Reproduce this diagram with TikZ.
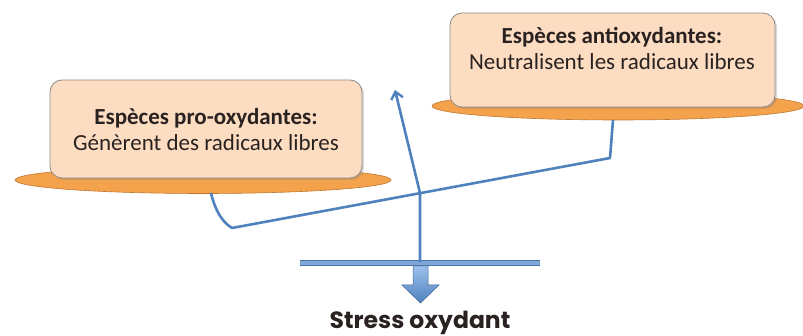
\documentclass[tikz,border=0pt]{standalone}
\usepackage{fontspec}
\setmainfont{Carlito}
\newfontfamily\gothic{Poppins}
\usetikzlibrary{arrows.meta,shadows,shapes.geometric}
\definecolor{peach}{HTML}{FCDDC2}
\definecolor{peachedge}{HTML}{8E8A88}
\definecolor{orangeell}{HTML}{F5A24C}
\definecolor{orangeedge}{HTML}{C07830}
\definecolor{leverblue}{HTML}{4F81BD}
\definecolor{lightblue}{HTML}{7FA7DA}
\definecolor{arrowtop}{HTML}{9CC0EC}
\definecolor{inktext}{HTML}{2A2220}
\tikzset{
  plate/.style={ellipse, fill=orangeell, draw=orangeedge, line width=0.6pt, inner sep=0pt},
  card/.style={rounded corners=12pt, fill=peach, draw=peachedge, line width=0.8pt,
    drop shadow={shadow xshift=2pt, shadow yshift=-2pt, opacity=0.3}},
  cardtext/.style={align=center, font=\fontsize{23}{26}\selectfont, text=inktext},
  lever/.style={draw=leverblue, line width=2.6pt, line join=round},
}
\begin{document}
\begin{tikzpicture}[x=1pt,y=-1pt]
\useasboundingbox (0,0) rectangle (803,336);
% plates
\node[plate, minimum width=376pt, minimum height=27pt] (lplate) at (203,180) {};
\node[plate, minimum width=372pt, minimum height=28pt] (rplate) at (618,106) {};
% cards
\path[card] (50,80) rectangle (362,178);
\path[card] (450,13) rectangle (775,107);
\node[cardtext] (ltext) at (206,130) {\textbf{Espèces pro-oxydantes:}\\Génèrent des radicaux libres};
\node[cardtext] (rtext) at (612,49) {\textbf{Espèces antioxydantes:}\\Neutralisent les radicaux libres};
% lever
\coordinate (lstart) at (211,193);
\coordinate (lcorner) at (232,228);
\coordinate (rcorner) at (610,158);
\coordinate (rstart) at (613,120);
\draw[lever] (lstart) .. controls (215,210) and (222,222) .. (lcorner) -- (rcorner) -- (rstart);
% fulcrum
\coordinate (fl) at (300,263);
\coordinate (fr) at (540,263);
\draw[draw=leverblue!90!black, line width=5.5pt] (fl) -- (fr);
\draw[draw=lightblue, line width=3.8pt] (fl) -- (fr);
% indicator arrow
\coordinate (pivot) at (420,262);
\coordinate (cross) at (420,193);
\coordinate (tip) at (395,90);
\draw[lever, line width=2.6pt, -{Straight Barb[length=7pt,width=12pt,line width=2.4pt]}] (pivot) -- (cross) -- (tip);
% block arrow
\shade[top color=arrowtop, bottom color=leverblue, draw=leverblue!80!black, line width=0.5pt]
  (413,266) -- (428,266) -- (428,285) -- (439,285) -- (420.5,303) -- (402,285) -- (413,285) -- cycle;
% result text
\node[font=\gothic\bfseries\fontsize{23.5}{26}\selectfont, text=inktext] (stress) at (420,323) {Stress oxydant};
\end{tikzpicture}
\end{document}
